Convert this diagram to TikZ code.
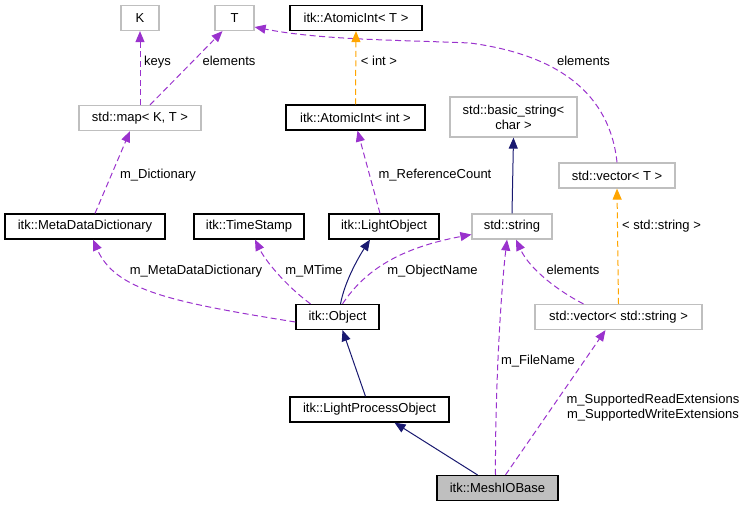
\documentclass[tikz,border=0pt]{standalone}
\usepackage{fontspec}
\setmainfont{Liberation Sans}
\usepackage{tikz}
\usetikzlibrary{arrows.meta}
\definecolor{edgepurple}{HTML}{9A32CD}
\definecolor{edgenavy}{HTML}{191970}
\definecolor{edgeorange}{HTML}{FFA500}
\definecolor{boxgray}{HTML}{BFBFBF}
\begin{document}
\begin{tikzpicture}[x=1pt, y=-1pt, font=\fontsize{13}{15}\selectfont,
  cls/.style={draw=black, rectangle, line width=1.2pt, minimum height=25pt, inner sep=0pt, minimum width=#1},
  ext/.style={cls=#1, draw=boxgray},
  lbl/.style={inner sep=0pt, text height=9.5pt, text depth=2.5pt},
  use/.style={draw=edgepurple, dash pattern=on 6pt off 3.5pt, line width=1pt, -{Triangle[length=11pt, width=9pt]}},
  tmpl/.style={use, draw=edgeorange},
  inh/.style={draw=edgenavy, line width=1pt, -{Triangle[length=11pt, width=9pt]}}]
\useasboundingbox (0,0) rectangle (747,507);

\node [ext=38pt] (K) at (140,18) {K};
\node [ext=39pt] (T) at (234.5,18) {T};
\node [cls=132pt] (AT) at (356,18) {itk::AtomicInt< T >};
\node [ext=122pt] (map) at (140,118) {std::map< K, T >};
\node [cls=139pt] (AI) at (355.5,117.5) {itk::AtomicInt< int >};
\node [ext=127pt, minimum height=40pt, align=center] (bstr) at (513.5,117) {std::basic\_string<\\char >};
\node [ext=116pt] (vecT) at (617,175.5) {std::vector< T >};
\node [cls=160pt] (mdd) at (85,226.5) {itk::MetaDataDictionary};
\node [cls=110pt] (ts) at (249,226.5) {itk::TimeStamp};
\node [cls=110pt] (lo) at (384,226.5) {itk::LightObject};
\node [ext=80pt] (str) at (512,226.5) {std::string};
\node [cls=83pt] (obj) at (337.5,317) {itk::Object};
\node [ext=167pt] (vecS) at (618.5,317) {std::vector< std::string >};
\node [cls=159pt] (lpo) at (369.5,409.5) {itk::LightProcessObject};
\node [cls=121pt, fill=boxgray] (mio) at (497.5,488) {itk::MeshIOBase};

\draw [use] (map.north) -- (K.south);
\draw [use] ([xshift=10pt]map.north) -- ([xshift=-12pt]T.south);
\draw [use] (vecT.north) .. controls (610,95) and (560,55) .. (470,43) .. controls (400,40) and (320,40) .. ([yshift=-9pt]T.east);
\draw [tmpl] (AI.north) -- (AT.south);
\draw [use] ([xshift=-4pt]lo.north) -- ([xshift=2pt]AI.south);
\draw [use] ([xshift=10pt]mdd.north) -- ([xshift=-10pt]map.south);
\draw [inh] (str.north) -- (bstr.south);
\draw [tmpl] (vecS.north) -- (vecT.south);
\draw [inh] ([xshift=3pt]obj.north) .. controls (345,280) and (360,255) .. ([xshift=-14pt]lo.south);
\draw [use] ([yshift=-5pt]obj.west) .. controls (170,302) and (115,290) .. ([xshift=8pt]mdd.south);
\draw [use] ([xshift=-27pt]obj.north) .. controls (285,285) and (265,260) .. ([xshift=6pt]ts.south);
\draw [use] ([xshift=5pt]obj.north) .. controls (365,270) and (400,248) .. ([yshift=-8pt]str.west);
\draw [use] ([xshift=-35pt]vecS.north) .. controls (560,292) and (530,270) .. ([xshift=4pt]str.south);
\draw [inh] ([xshift=-4pt]lpo.north) -- ([xshift=5pt]obj.south);
\draw [inh] ([xshift=-20pt]mio.north) -- ([xshift=25pt]lpo.south);
\draw [use] ([xshift=-2pt]mio.north) .. controls (495,400) and (500,300) .. ([xshift=-5pt]str.south);
\draw [use] ([xshift=8pt]mio.north) -- ([xshift=-13pt]vecS.south);

\node [lbl] (lkeys) at (157.5,62) {keys};
\node [lbl] (lelemT) at (229,62) {elements};
\node [lbl] (lelemV) at (583.5,62) {elements};
\node [lbl] (lint) at (379,62) {< int >};
\node [lbl] (ldict) at (158,175) {m\_Dictionary};
\node [lbl] (lref) at (435,175) {m\_ReferenceCount};
\node [lbl] (lstr) at (661.5,226) {< std::string >};
\node [lbl] (lmdd) at (196,270.5) {m\_MetaDataDictionary};
\node [lbl] (lmtime) at (314,270.5) {m\_MTime};
\node [lbl] (lname) at (432.5,270.5) {m\_ObjectName};
\node [lbl] (lelemS) at (573,270.5) {elements};
\node [lbl] (lfile) at (538,361) {m\_FileName};
\node [inner sep=0pt, align=center] (lext) at (653,408) {m\_SupportedReadExtensions\\m\_SupportedWriteExtensions};
\end{tikzpicture}
\end{document}
